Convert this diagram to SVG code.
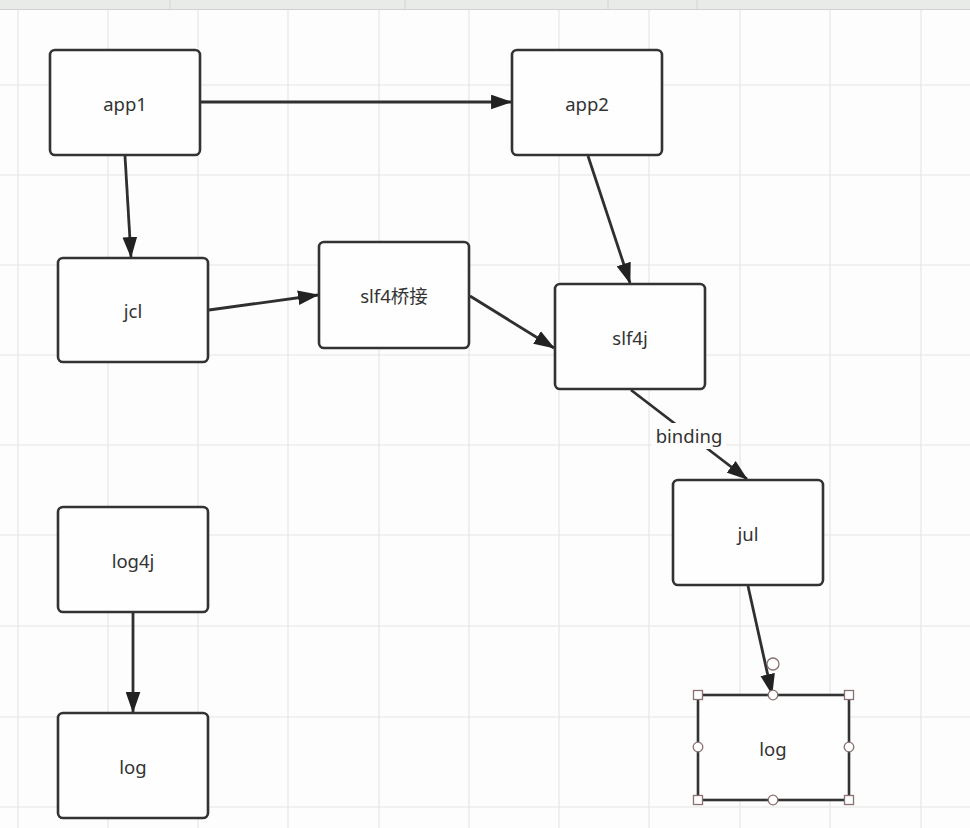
<svg xmlns="http://www.w3.org/2000/svg" width="970" height="828" viewBox="0 0 970 828">
<style>
.grid{stroke:#e4e6e4;stroke-width:1.2}
.node rect{fill:#fdfefd;stroke:#333;stroke-width:2.6}
.node text{font-family:"Noto Sans","Noto Sans CJK SC",sans-serif;font-size:18.5px;fill:#333;text-anchor:middle;dominant-baseline:central}
.edge{stroke:#2f2f2f;stroke-width:2.8;fill:none;marker-end:url(#arr)}
.lbl{font-family:"Noto Sans","Noto Sans CJK SC",sans-serif;font-size:18.5px;fill:#333;text-anchor:middle;dominant-baseline:central}
.node .h{fill:#fff;stroke:#8a7070;stroke-width:1.3}
</style>
<defs>
<marker id="arr" viewBox="0 0 20 14" refX="19" refY="7" markerWidth="21" markerHeight="15" markerUnits="userSpaceOnUse" orient="auto">
<path d="M0,0 L20,7 L0,14 Z" fill="#222"/>
</marker>
</defs>
<rect width="970" height="828" fill="#fcfdfc"/>
<g id="grid">
<line class="grid" x1="18" y1="0" x2="18" y2="828"/>
<line class="grid" x1="108" y1="0" x2="108" y2="828"/>
<line class="grid" x1="198" y1="0" x2="198" y2="828"/>
<line class="grid" x1="288" y1="0" x2="288" y2="828"/>
<line class="grid" x1="379" y1="0" x2="379" y2="828"/>
<line class="grid" x1="469" y1="0" x2="469" y2="828"/>
<line class="grid" x1="559" y1="0" x2="559" y2="828"/>
<line class="grid" x1="649" y1="0" x2="649" y2="828"/>
<line class="grid" x1="740" y1="0" x2="740" y2="828"/>
<line class="grid" x1="830" y1="0" x2="830" y2="828"/>
<line class="grid" x1="921" y1="0" x2="921" y2="828"/>
<line class="grid" x1="0" y1="85" x2="970" y2="85"/>
<line class="grid" x1="0" y1="175" x2="970" y2="175"/>
<line class="grid" x1="0" y1="265" x2="970" y2="265"/>
<line class="grid" x1="0" y1="355" x2="970" y2="355"/>
<line class="grid" x1="0" y1="445" x2="970" y2="445"/>
<line class="grid" x1="0" y1="535" x2="970" y2="535"/>
<line class="grid" x1="0" y1="626" x2="970" y2="626"/>
<line class="grid" x1="0" y1="717" x2="970" y2="717"/>
<line class="grid" x1="0" y1="807" x2="970" y2="807"/>
<rect x="0" y="0" width="970" height="9" fill="#e9ebe9"/>
<line x1="0" y1="9.5" x2="970" y2="9.5" stroke="#cfd2cf" stroke-width="1"/>
<line x1="170" y1="0" x2="170" y2="9" stroke="#d2d4d2"/>
<line x1="405" y1="0" x2="405" y2="9" stroke="#d2d4d2"/>
<line x1="608" y1="0" x2="608" y2="9" stroke="#d2d4d2"/>
<line x1="697" y1="0" x2="697" y2="9" stroke="#d2d4d2"/>
</g>
<g id="connectors">
<line class="edge" x1="201" y1="102" x2="511" y2="102"/>
<line class="edge" x1="125" y1="156" x2="131" y2="257"/>
<line class="edge" x1="209" y1="310" x2="318" y2="295"/>
<line class="edge" x1="470" y1="296" x2="554" y2="348"/>
<line class="edge" x1="588" y1="156" x2="630" y2="283"/>
<line class="edge" x1="631" y1="390" x2="747" y2="479"/>
<line class="edge" x1="748" y1="586" x2="772" y2="694"/>
<line class="edge" x1="133" y1="613" x2="133" y2="712"/>
<rect x="652" y="423" width="74" height="26" fill="#fcfdfc"/>
<text class="lbl" x="689" y="435">binding</text>
</g>
<g id="app1" class="node"><rect x="50" y="50" width="150" height="105" rx="5"/><text x="125" y="103">app1</text></g>
<g id="app2" class="node"><rect x="512" y="50" width="150" height="105" rx="5"/><text x="587" y="103">app2</text></g>
<g id="jcl" class="node"><rect x="58" y="258" width="150" height="104" rx="5"/><text x="133" y="310">jcl</text></g>
<g id="slf4bridge" class="node"><rect x="319" y="242" width="150" height="106" rx="5"/><text x="394" y="295">slf4桥接</text></g>
<g id="slf4j" class="node"><rect x="555" y="284" width="150" height="105" rx="5"/><text x="630" y="337">slf4j</text></g>
<g id="jul" class="node"><rect x="673" y="480" width="150" height="105" rx="5"/><text x="748" y="533">jul</text></g>
<g id="log4j" class="node"><rect x="58" y="507" width="150" height="105" rx="5"/><text x="133" y="560">log4j</text></g>
<g id="log1" class="node"><rect x="58" y="713" width="150" height="105" rx="5"/><text x="133" y="766">log</text></g>
<g id="log2" class="node"><rect x="698" y="695" width="151" height="105" rx="0"/><text x="773" y="748">log</text>
<circle class="h" cx="773" cy="664" r="6"/>
<rect class="h" x="693.5" y="690.5" width="9" height="9"/>
<rect class="h" x="844.5" y="690.5" width="9" height="9"/>
<rect class="h" x="693.5" y="795.5" width="9" height="9"/>
<rect class="h" x="844.5" y="795.5" width="9" height="9"/>
<circle class="h" cx="773" cy="695" r="4.8"/>
<circle class="h" cx="773" cy="800" r="4.8"/>
<circle class="h" cx="698" cy="747" r="4.8"/>
<circle class="h" cx="849" cy="747" r="4.8"/>
</g>
</svg>
